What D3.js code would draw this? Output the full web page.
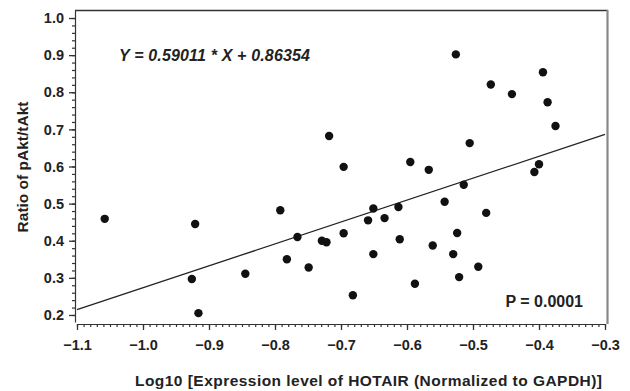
<!DOCTYPE html>
<html>
<head>
<meta charset="utf-8">
<script src="https://cdn.jsdelivr.net/npm/d3@7"></script>
<style>
  body { margin: 0; background: #fff; }
  svg { display: block; font-family: Arial, "Liberation Sans", sans-serif; }
  .tick text { font-weight: bold; font-size: 14.5px; fill: #222; }
  .lbl { font-weight: bold; fill: #222; }
</style>
</head>
<body>
<div id="chart"></div>
<script>
const width = 630;
const height = 391;

// data
const xVals = [-1.058, -0.921, -0.926, -0.916, -0.845, -0.792, -0.782, -0.766, -0.749, -0.729,
  -0.722, -0.718, -0.696, -0.696, -0.682, -0.659, -0.651, -0.651, -0.634, -0.613,
  -0.611, -0.595, -0.588, -0.567, -0.561, -0.543, -0.530, -0.526, -0.524, -0.521,
  -0.514, -0.505, -0.492, -0.480, -0.473, -0.441, -0.407, -0.400, -0.394, -0.387, -0.375];
const yVals = [0.459, 0.445, 0.297, 0.205, 0.311, 0.482, 0.350, 0.410, 0.328, 0.400,
  0.396, 0.682, 0.599, 0.420, 0.253, 0.455, 0.487, 0.364, 0.461, 0.491,
  0.404, 0.612, 0.284, 0.591, 0.387, 0.505, 0.364, 0.902, 0.421, 0.302,
  0.551, 0.663, 0.330, 0.475, 0.821, 0.795, 0.585, 0.606, 0.854, 0.773, 0.709];
const xTicks = [-1.1, -1.0, -0.9, -0.8, -0.7, -0.6, -0.5, -0.4, -0.3];
const yTicks = [0.2, 0.3, 0.4, 0.5, 0.6, 0.7, 0.8, 0.9, 1.0];
const slope = 0.59011;
const intercept = 0.86354;

const svg = d3.select("#chart").append("svg")
  .attr("width", width)
  .attr("height", height);

const x = d3.scaleLinear().domain([-1.1, -0.3]).range([77, 605]);
const y = d3.scaleLinear().domain([0.1811, 1.0216]).range([322, 10]);

// box: top and right edges
svg.append("line")
  .attr("x1", 75).attr("x2", 608).attr("y1", 10.5).attr("y2", 10.5)
  .attr("stroke", "#333").attr("stroke-width", 1.3);
svg.append("line")
  .attr("x1", 607.5).attr("x2", 607.5).attr("y1", 10).attr("y2", 324)
  .attr("stroke", "#888").attr("stroke-width", 2.2);

// y axis, minor then major
const yMinor = d3.range(0.2, 1.0001, 0.02);
svg.append("g")
  .attr("transform", "translate(75,0)")
  .call(d3.axisLeft(y).tickValues(yMinor).tickSize(3).tickSizeOuter(0).tickFormat(""))
  .call(g => g.selectAll("line,path").attr("stroke", "#333").attr("stroke-width", 1.2));
svg.append("g")
  .attr("transform", "translate(75,0)")
  .call(d3.axisLeft(y).tickValues(yTicks).tickSize(6).tickSizeOuter(0).tickPadding(5)
    .tickFormat(d3.format(".1f")))
  .call(g => g.select(".domain").remove())
  .call(g => g.selectAll("line").attr("stroke", "#333").attr("stroke-width", 1.3));

// x axis, minor then major
const xMinor = d3.range(-1.1, -0.2999, 0.01);
svg.append("g")
  .attr("transform", "translate(0,324)")
  .call(d3.axisBottom(x).tickValues(xMinor).tickSize(3).tickSizeOuter(0).tickFormat(""))
  .call(g => g.selectAll("line,path").attr("stroke", "#333").attr("stroke-width", 1.2));
svg.append("g")
  .attr("transform", "translate(0,324)")
  .call(d3.axisBottom(x).tickValues(xTicks).tickSize(6).tickSizeOuter(0).tickPadding(10)
    .tickFormat(d3.format(".1f")))
  .call(g => g.select(".domain").remove())
  .call(g => g.selectAll("line").attr("stroke", "#333").attr("stroke-width", 1.3));

// regression line
svg.append("line")
  .attr("x1", x(-1.1)).attr("y1", y(slope * -1.1 + intercept))
  .attr("x2", x(-0.3)).attr("y2", y(slope * -0.3 + intercept))
  .attr("stroke", "#222").attr("stroke-width", 1.3);

// points
svg.append("g")
  .selectAll("circle")
  .data(xVals.map((v, i) => [v, yVals[i]]))
  .join("circle")
  .attr("cx", d => x(d[0]))
  .attr("cy", d => y(d[1]))
  .attr("r", 4.2)
  .attr("fill", "#111");

// texts
svg.append("text")
  .attr("class", "lbl")
  .attr("x", 119).attr("y", 61)
  .attr("font-size", 16)
  .attr("font-style", "italic")
  .attr("textLength", 191)
  .text("Y = 0.59011 * X + 0.86354");

svg.append("text")
  .attr("class", "lbl")
  .attr("x", 583).attr("y", 307)
  .attr("text-anchor", "end")
  .attr("font-size", 16)
  .text("P = 0.0001");

svg.append("text")
  .attr("class", "lbl")
  .attr("x", 135).attr("y", 386)
  .attr("font-size", 15.5)
  .attr("textLength", 467)
  .text("Log10 [Expression level of HOTAIR (Normalized to GAPDH)]");

svg.append("text")
  .attr("class", "lbl")
  .attr("transform", "translate(28,167) rotate(-90)")
  .attr("text-anchor", "middle")
  .attr("font-size", 15.5)
  .text("Ratio of pAkt/tAkt");
</script>
</body>
</html>
